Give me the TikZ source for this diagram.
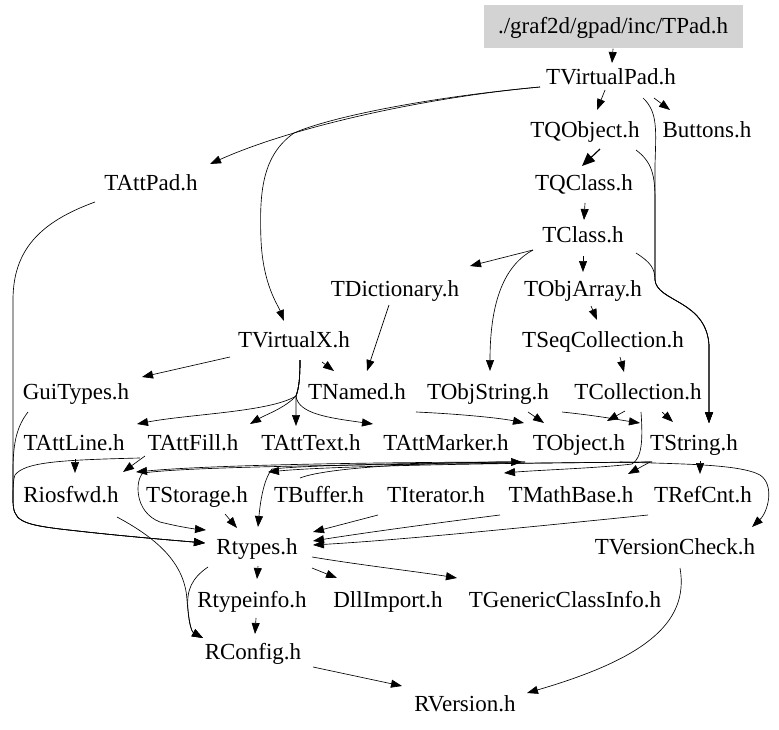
\documentclass[tikz,border=0pt]{standalone}
\usepackage{fontspec}
\setmainfont{Liberation Serif}
\usetikzlibrary{arrows.meta}
\tikzset{
  lbl/.style={font=\fontsize{23}{27}\selectfont, inner sep=0pt, text height=17pt, text depth=3pt},
  rootbox/.style={lbl, fill={rgb,255:red,211;green,211;blue,211}, minimum width=259pt, minimum height=43pt},
  e/.style={-{Triangle[length=11pt,width=8pt]}, line width=0.65pt},
  eb/.style={-{Triangle[length=13pt,width=11pt]}, line width=1.2pt}
}
\begin{document}
\begin{tikzpicture}[x=1pt,y=-1pt]
\useasboundingbox (0,0) rectangle (779,730);
\node[rootbox] (tpad) at (613,27) {./graf2d/gpad/inc/TPad.h};
\node[lbl] (tvp) at (611,78) {TVirtualPad.h};
\node[lbl] (tqo) at (585,131) {TQObject.h};
\node[lbl] (btn) at (707,131) {Buttons.h};
\node[lbl] (tattpad) at (151,184) {TAttPad.h};
\node[lbl] (tqc) at (584,184) {TQClass.h};
\node[lbl] (tcl) at (583,236) {TClass.h};
\node[lbl] (tdict) at (395,289) {TDictionary.h};
\node[lbl] (toa) at (583,289) {TObjArray.h};
\node[lbl] (tvx) at (294,340) {TVirtualX.h};
\node[lbl] (tseq) at (603,340) {TSeqCollection.h};
\node[lbl] (gui) at (76,392) {GuiTypes.h};
\node[lbl] (tnamed) at (357,392) {TNamed.h};
\node[lbl] (tos) at (488,392) {TObjString.h};
\node[lbl] (tcoll) at (638,392) {TCollection.h};
\node[lbl] (tattline) at (74,443) {TAttLine.h};
\node[lbl] (tattfill) at (193,443) {TAttFill.h};
\node[lbl] (tatttext) at (311,443) {TAttText.h};
\node[lbl] (tattmarker) at (446,443) {TAttMarker.h};
\node[lbl] (tobj) at (579,443) {TObject.h};
\node[lbl] (tstr) at (694,443) {TString.h};
\node[lbl] (riosfwd) at (71,495) {Riosfwd.h};
\node[lbl] (tstorage) at (197,495) {TStorage.h};
\node[lbl] (tbuffer) at (319,495) {TBuffer.h};
\node[lbl] (titer) at (436,495) {TIterator.h};
\node[lbl] (tmath) at (571,495) {TMathBase.h};
\node[lbl] (trefcnt) at (703,495) {TRefCnt.h};
\node[lbl] (rtypes) at (257,547) {Rtypes.h};
\node[lbl] (tvc) at (675,547) {TVersionCheck.h};
\node[lbl] (rtinfo) at (252,600) {Rtypeinfo.h};
\node[lbl] (dll) at (388,600) {DllImport.h};
\node[lbl] (tgci) at (565,600) {TGenericClassInfo.h};
\node[lbl] (rconfig) at (253,652) {RConfig.h};
\node[lbl] (rversion) at (465,704) {RVersion.h};

% top part
\draw[e] (tpad.south) -- ([shift={(1,-15)}]tvp.center);
\draw[e] ([shift={(-6,12)}]tvp.center) -- ([shift={(12,-21)}]tqo.center);
\draw[e] ([shift={(43,20)}]tvp.center) -- ([shift={(-37,-21)}]btn.center);
\draw[e] ([shift={(-71,9)}]tvp.center) .. controls (420,98) and (290,128) .. ([shift={(59,-20)}]tattpad.center);
\draw[e] ([shift={(-71,9)}]tvp.center) .. controls (430,97) and (330,117) .. (294,133)
  .. controls (263,155) and (259,190) .. (261,240) .. controls (263,285) and (278,305) .. ([shift={(-10,-19)}]tvx.center);
\draw[e] ([shift={(32,20)}]tvp.center) .. controls (658,112) and (656,130) .. (655,165) -- (655,280)
  .. controls (657,302) and (706,300) .. (709,345) -- ([shift={(15,-20)}]tstr.center);
\draw[e] ([shift={(51,19)}]tqo.center) .. controls (652,162) and (655,175) .. (655,200) -- (655,280)
  .. controls (657,302) and (706,300) .. (709,345) -- ([shift={(15,-20)}]tstr.center);
\draw[e] ([shift={(53,17)}]tcl.center) .. controls (650,262) and (655,268) .. (655,280)
  .. controls (657,302) and (706,300) .. (709,345) -- ([shift={(15,-20)}]tstr.center);
\draw[eb] ([shift={(15,18)}]tqo.center) -- ([shift={(-2,-18)}]tqc.center);
\draw[e] ([shift={(1,19)}]tqc.center) -- ([shift={(1,-16)}]tcl.center);
\draw[e] ([shift={(-50,14)}]tcl.center) -- ([shift={(75,-23)}]tdict.center);
\draw[e] ([shift={(-50,14)}]tcl.center) .. controls (505,265) and (490,300) .. ([shift={(2,-21)}]tos.center);
\draw[e] ([shift={(0,20)}]tcl.center) -- ([shift={(0,-17)}]toa.center);
\draw[e] ([shift={(8,17)}]toa.center) -- ([shift={(-6,-20)}]tseq.center);
\draw[e] ([shift={(17,17)}]tseq.center) -- ([shift={(-14,-20)}]tcoll.center);
\draw[e] ([shift={(-6,16)}]tdict.center) -- ([shift={(10,-21)}]tnamed.center);

% TVirtualX
\draw[e] ([shift={(-64,17)}]tvx.center) -- ([shift={(66,-15)}]gui.center);
\draw[e] ([shift={(28,22)}]tvx.center) -- ([shift={(-23,-21)}]tnamed.center);
\draw[e] ([shift={(6,20)}]tvx.center) .. controls (300,378) and (299,388) .. (296,396)
  .. controls (270,412) and (190,414) .. ([shift={(63,-19)}]tattline.center);
\draw[e] ([shift={(6,20)}]tvx.center) .. controls (300,378) and (299,388) .. (296,396)
  .. controls (285,408) and (265,415) .. ([shift={(57,-19)}]tattfill.center);
\draw[e] ([shift={(6,20)}]tvx.center) .. controls (300,378) and (299,388) .. (296,396)
  -- ([shift={(-15,-17)}]tatttext.center);
\draw[e] ([shift={(6,20)}]tvx.center) .. controls (300,378) and (299,388) .. (296,396)
  .. controls (298,414) and (330,418) .. ([shift={(-73,-19)}]tattmarker.center);

% into TObject / TString
\draw[e] ([shift={(59,20)}]tnamed.center) .. controls (460,414) and (500,418) .. ([shift={(-55,-20)}]tobj.center);
\draw[e] ([shift={(40,20)}]tos.center) -- ([shift={(-35,-20)}]tobj.center);
\draw[e] ([shift={(74,20)}]tos.center) .. controls (600,416) and (620,420) .. ([shift={(-54,-20)}]tstr.center);
\draw[e] ([shift={(-13,19)}]tcoll.center) -- ([shift={(28,-22)}]tobj.center);
\draw[e] ([shift={(24,20)}]tcoll.center) -- ([shift={(-21,-21)}]tstr.center);
\draw[e] ([shift={(3,20)}]tcoll.center) .. controls (643,440) and (642,458) .. (632,464)
  .. controls (600,468) and (540,470) .. ([shift={(68,-22)}]titer.center);

% from TObject / TString
\draw[e] ([shift={(41,19)}]tobj.center) .. controls (680,464) and (740,464) .. (760,475)
  .. controls (775,485) and (768,512) .. ([shift={(77,-20)}]tvc.center);
\draw[e] ([shift={(6,18)}]tstr.center) -- ([shift={(-3,-21)}]trefcnt.center);
\draw[e] ([shift={(-44,19)}]tstr.center) -- ([shift={(57,-21)}]tmath.center);
\draw[e] ([shift={(-54,19)}]tobj.center) .. controls (420,462) and (220,464) .. ([shift={(-61,-23)}]tstorage.center);
\draw[e] ([shift={(-42,19)}]tstr.center) .. controls (450,464) and (200,465) .. (143,473)
  .. controls (135,480) and (134,512) .. (160,522) .. controls (180,527) and (195,529) .. ([shift={(-51,-17)}]rtypes.center);
\draw[e] ([shift={(-54,19)}]tobj.center) .. controls (420,463) and (310,465) .. (272,469)
  .. controls (263,480) and (260,505) .. ([shift={(1,-20)}]rtypes.center);
\draw[e] ([shift={(-42,19)}]tstr.center) .. controls (500,463) and (330,466) .. ([shift={(-51,-23)}]tbuffer.center);
\draw[e] ([shift={(-19,-17)}]tbuffer.center) .. controls (330,466) and (450,462) .. ([shift={(-57,19)}]tobj.center);

% left side
\draw[e] ([shift={(1,16)}]tattline.center) -- ([shift={(4,-22)}]riosfwd.center);
\draw[e] ([shift={(-48,13)}]tattfill.center) -- ([shift={(52,-23)}]riosfwd.center);
\draw[e] ([shift={(-53,15)}]tattfill.center) .. controls (60,460) and (25,462) .. (15,475)
  .. controls (13,480) and (13,490) .. (13,500)
  .. controls (13,520) and (20,524) .. (60,529) .. controls (120,536) and (170,540) .. ([shift={(-52,-4)}]rtypes.center);
\draw[e] ([shift={(-56,18)}]tattpad.center) .. controls (40,222) and (13,250) .. (13,300) -- (13,500)
  .. controls (13,520) and (20,524) .. (60,529) .. controls (120,536) and (170,540) .. ([shift={(-52,-4)}]rtypes.center);
\draw[e] ([shift={(-48,20)}]gui.center) .. controls (18,425) and (13,440) .. (13,470) -- (13,500)
  .. controls (13,520) and (20,524) .. (60,529) .. controls (120,536) and (170,540) .. ([shift={(-52,-4)}]rtypes.center);

% into Rtypes
\draw[e] ([shift={(-58,20)}]titer.center) -- ([shift={(56,-15)}]rtypes.center);
\draw[e] ([shift={(-71,20)}]tmath.center) .. controls (420,525) and (350,535) .. ([shift={(56,-6)}]rtypes.center);
\draw[e] ([shift={(-55,20)}]trefcnt.center) .. controls (520,528) and (400,540) .. ([shift={(56,-2)}]rtypes.center);
\draw[e] ([shift={(28,19)}]tstorage.center) -- ([shift={(-20,-19)}]rtypes.center);

% bottom
\draw[e] ([shift={(1,19)}]rtypes.center) -- ([shift={(5,-21)}]rtinfo.center);
\draw[e] ([shift={(55,21)}]rtypes.center) -- ([shift={(-51,-22)}]dll.center);
\draw[e] ([shift={(55,10)}]rtypes.center) .. controls (360,565) and (420,572) .. ([shift={(-108,-22)}]tgci.center);
\draw[e] ([shift={(-49,20)}]rtypes.center) .. controls (192,578) and (186,590) .. (188,610)
  .. controls (189,625) and (192,632) .. ([shift={(-50,-14)}]rconfig.center);
\draw[e] ([shift={(46,22)}]riosfwd.center) .. controls (160,540) and (185,565) .. (187,600)
  .. controls (189,625) and (192,632) .. ([shift={(-50,-14)}]rconfig.center);
\draw[e] ([shift={(4,18)}]rtinfo.center) -- ([shift={(2,-18)}]rconfig.center);
\draw[e] ([shift={(60,15)}]rconfig.center) -- ([shift={(-63,-18)}]rversion.center);
\draw[e] ([shift={(5,21)}]tvc.center) .. controls (690,625) and (640,660) .. ([shift={(62,-11)}]rversion.center);
\end{tikzpicture}
\end{document}
